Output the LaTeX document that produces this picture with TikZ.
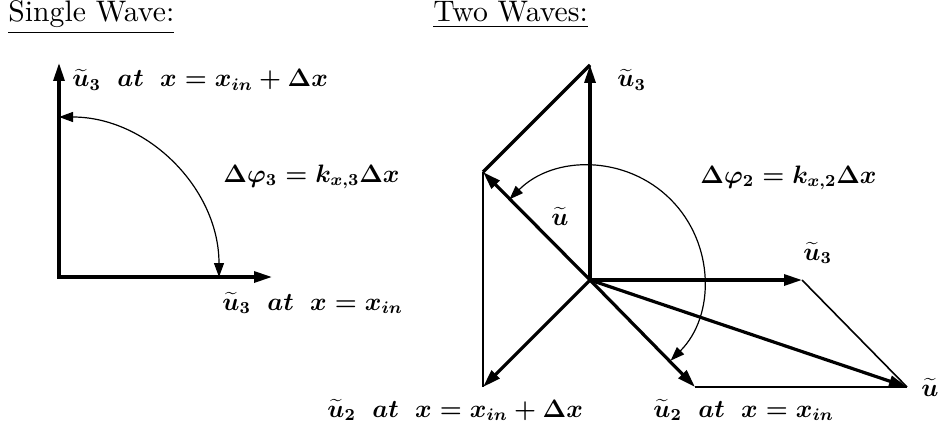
\documentclass[tikz,border=0pt]{standalone}
\usetikzlibrary{arrows.meta}
\newcommand{\mlab}[1]{\scalebox{1.05}{$#1$}}
\begin{document}
\begin{tikzpicture}[x=0.5pt,y=-0.5pt,
  vec/.style={line width=1.6pt,-{Triangle[length=9pt,width=5.5pt]}},
  vecboth/.style={line width=1.6pt,{Triangle[length=9pt,width=5.5pt]}-{Triangle[length=9pt,width=5.5pt]}},
  bar/.style={line width=1.6pt},
  guide/.style={line width=0.8pt},
  angarc/.style={line width=0.6pt,{Triangle[length=7pt,width=5pt]}-{Triangle[length=7pt,width=5pt]}},
  lbl/.style={inner sep=0pt,anchor=base west,font=\fontsize{12}{14}\selectfont\boldmath},
  ttl/.style={inner sep=0pt,anchor=base west,font=\fontsize{10}{12}\selectfont}]
\useasboundingbox (0,0) rectangle (940,433);
% titles
\node[ttl] (t1) at (8,22) {\scalebox{1.485}{\underline{Single Wave:}}};
\node[ttl] (t2) at (433,22) {\scalebox{1.485}{\underline{Two Waves:}}};
% ---- single wave ----
\coordinate (A) at (59,277);
\coordinate (Ay) at (59,63);
\coordinate (Ax) at (272,277);
\draw[vecboth] (Ay) -- (A) -- (Ax);
\draw[angarc] (219,277) arc[start angle=0,end angle=-90,radius=160];
\node[lbl] (l1) at (72,87) {\mlab{\widetilde u_3\ \ at\ \ x=x_{in}+\Delta x}};
\node[lbl] (l2) at (223,182) {\mlab{\Delta\varphi_3=k_{x,3}\Delta x}};
\node[lbl] (l3) at (222,310) {\mlab{\widetilde u_3\ \ at\ \ x=x_{in}}};
% ---- two waves ----
\coordinate (O) at (590,280);
\coordinate (U3) at (590,65);
\coordinate (U3x) at (802,280);
\coordinate (U2) at (695,387);
\coordinate (U) at (907,387);
\coordinate (U2b) at (483,387);
\coordinate (Ub) at (483,172);
\draw[guide] (U3x) -- (U);
\draw[guide] (U2) -- (U);
\draw[guide] (U2b) -- (Ub);
\draw[bar] (Ub) -- (U3);
\draw[vec] (O) -- (U3);
\draw[vec] (O) -- (U3x);
\draw[vec] (O) -- (U2);
\draw[vec] (O) -- (U);
\draw[vec] (O) -- (U2b);
\draw[vec] (O) -- (Ub);
\draw[angarc] (O) ++(45:114) arc[start angle=45,end angle=-135,radius=114];
\node[lbl] (r1) at (617,87) {\mlab{\widetilde u_3}};
\node[lbl] (r2) at (803,260) {\mlab{\widetilde u_3}};
\node[lbl] (r3) at (700,183) {\mlab{\Delta\varphi_2=k_{x,2}\Delta x}};
\node[lbl] (r4) at (551,225) {\mlab{\widetilde u}};
\node[lbl] (r5) at (921,396) {\mlab{\widetilde u}};
\node[lbl] (r6) at (327,417) {\mlab{\widetilde u_2\ \ at\ \ x=x_{in}+\Delta x}};
\node[lbl] (r7) at (653,417) {\mlab{\widetilde u_2\ \ at\ \ x=x_{in}}};
\end{tikzpicture}
\end{document}
